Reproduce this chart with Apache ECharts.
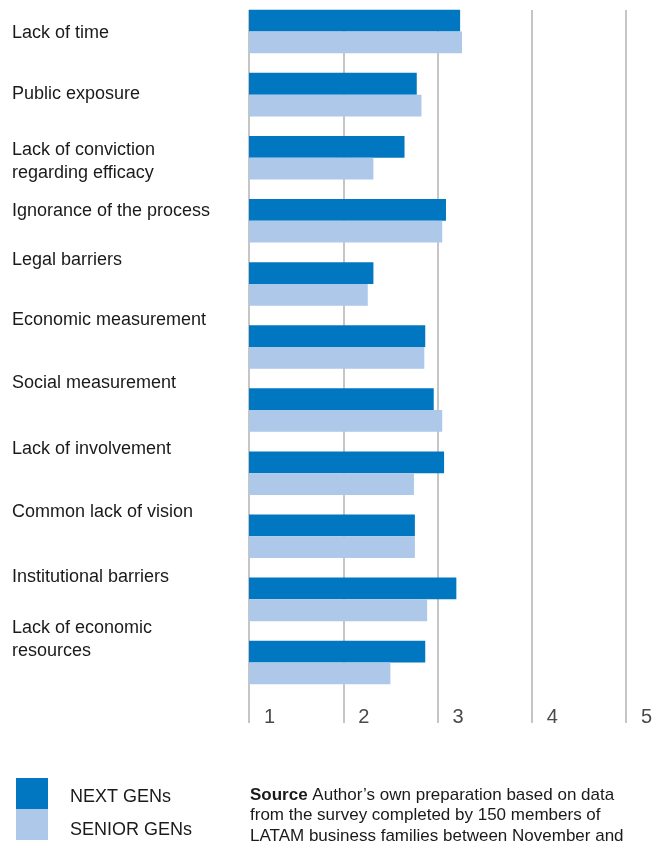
<!DOCTYPE html>
<html>
<head>
<meta charset="utf-8">
<script src="https://cdn.jsdelivr.net/npm/echarts@6/dist/echarts.min.js"></script>
<style>
  html, body { margin: 0; padding: 0; background: #ffffff; }
  #chart { width: 667px; height: 841px; }
</style>
</head>
<body>
<div id="chart"></div>
<script>
// Barriers ranked by each generation (mean score, scale 1-5)
var categories = [
  'Lack of time',
  'Public exposure',
  'Lack of conviction\nregarding efficacy',
  'Ignorance of the process',
  'Legal barriers',
  'Economic measurement',
  'Social measurement',
  'Lack of involvement',
  'Common lack of vision',
  'Institutional barriers',
  'Lack of economic\nresources'
];
var nextGens   = [3.24, 2.78, 2.65, 3.09, 2.32, 2.87, 2.96, 3.07, 2.76, 3.20, 2.87];
var seniorGens = [3.26, 2.83, 2.32, 3.05, 2.26, 2.86, 3.05, 2.75, 2.76, 2.89, 2.50];
var scaleTicks = [1, 2, 3, 4, 5];
var seriesNames = ['NEXT GENs', 'SENIOR GENs'];

// Vertical nudge of each category label relative to its bar pair (px)
var labelShift = [1, -1, 4, -10, -24, -27, -27, -24, -24, -22, -23];

var FONT = "'Liberation Sans', Arial, Helvetica, sans-serif";
var DARK = '#0077c0';
var LIGHT = '#adc8e9';
var GRID_LINE = '#b3b3b3';

var chart = echarts.init(document.getElementById('chart'), null, { renderer: 'canvas' });

// one legend block per series, stacked with no gap
function legendBlock(name, top, textDrop) {
  return {
    orient: 'vertical',
    left: 16, top: top,
    padding: 0,
    itemWidth: 32, itemHeight: 31, itemGap: 0,
    icon: 'rect',
    data: [name],
    selectedMode: false,
    formatter: '{t|{name}}',
    textStyle: {
      fontSize: 18, color: '#1a1a1a', fontFamily: FONT,
      rich: {
        t: { fontSize: 18, color: '#1a1a1a', fontFamily: FONT, padding: [textDrop, 0, 0, 17] }
      }
    }
  };
}

var option = {
  backgroundColor: '#ffffff',
  animation: false,
  textStyle: { fontFamily: FONT },
  grid: [
    // bars
    { left: 249, width: 377, top: 0, height: 694, containLabel: false },
    // scale lines and tick labels
    { left: 249, width: 377, top: 10, height: 695, containLabel: false }
  ],
  xAxis: [
    {
      gridIndex: 0, type: 'value',
      min: scaleTicks[0], max: scaleTicks[scaleTicks.length - 1], interval: 1,
      show: false
    },
    {
      gridIndex: 1, type: 'value',
      min: scaleTicks[0], max: scaleTicks[scaleTicks.length - 1], interval: 1,
      axisLine: { show: false },
      axisTick: { show: true, length: 18, lineStyle: { color: GRID_LINE, width: 1.5 } },
      splitLine: { show: true, showMinLine: true, showMaxLine: true, lineStyle: { color: GRID_LINE, width: 1.5 } },
      axisLabel: {
        show: true, margin: 2, align: 'left', padding: [0, 0, 0, 15],
        color: '#4a4a4a', fontSize: 20, fontFamily: FONT,
        showMinLabel: true, showMaxLabel: true
      }
    }
  ],
  yAxis: [
    {
      gridIndex: 0, type: 'category', inverse: true,
      data: categories, show: false
    },
    {
      gridIndex: 1, type: 'value', min: 0, max: 1, show: false
    }
  ],
  legend: [
    legendBlock(seriesNames[0], 778, 8),
    legendBlock(seriesNames[1], 809, 12)
  ],
  series: [
    {
      name: seriesNames[0], type: 'bar',
      xAxisIndex: 0, yAxisIndex: 0,
      data: nextGens,
      barGap: '0%', barCategoryGap: '31%',
      itemStyle: { color: DARK },
      silent: true
    },
    {
      name: seriesNames[1], type: 'bar',
      xAxisIndex: 0, yAxisIndex: 0,
      data: seniorGens,
      barGap: '0%', barCategoryGap: '31%',
      itemStyle: { color: LIGHT },
      silent: true
    },
    {
      // category names, placed against each bar pair
      name: 'labels', type: 'custom',
      xAxisIndex: 0, yAxisIndex: 0,
      silent: true, clip: false,
      encode: { x: 0, y: 1 },
      data: categories.map(function (c, i) { return [scaleTicks[0], i]; }),
      renderItem: function (params, api) {
        var i = params.dataIndex;
        var pt = api.coord([api.value(0), api.value(1)]);
        return {
          type: 'text',
          x: 12,
          y: pt[1] + labelShift[i],
          style: {
            text: categories[i],
            fill: '#1a1a1a',
            font: '18px ' + FONT,
            align: 'left',
            verticalAlign: 'middle',
            lineHeight: 23.5
          }
        };
      }
    }
  ],
  graphic: [
    {
      type: 'text',
      left: 250,
      top: 785,
      style: {
        text: '{b|Source} Author\u2019s own preparation based on data\nfrom the survey completed by 150 members of\nLATAM business families between November and',
        fill: '#1a1a1a',
        font: '17px ' + FONT,
        lineHeight: 20.5,
        rich: {
          b: { fontWeight: 'bold', fontSize: 17, fontFamily: FONT, fill: '#1a1a1a', lineHeight: 20.5 }
        }
      }
    }
  ]
};

chart.setOption(option);
</script>
</body>
</html>
